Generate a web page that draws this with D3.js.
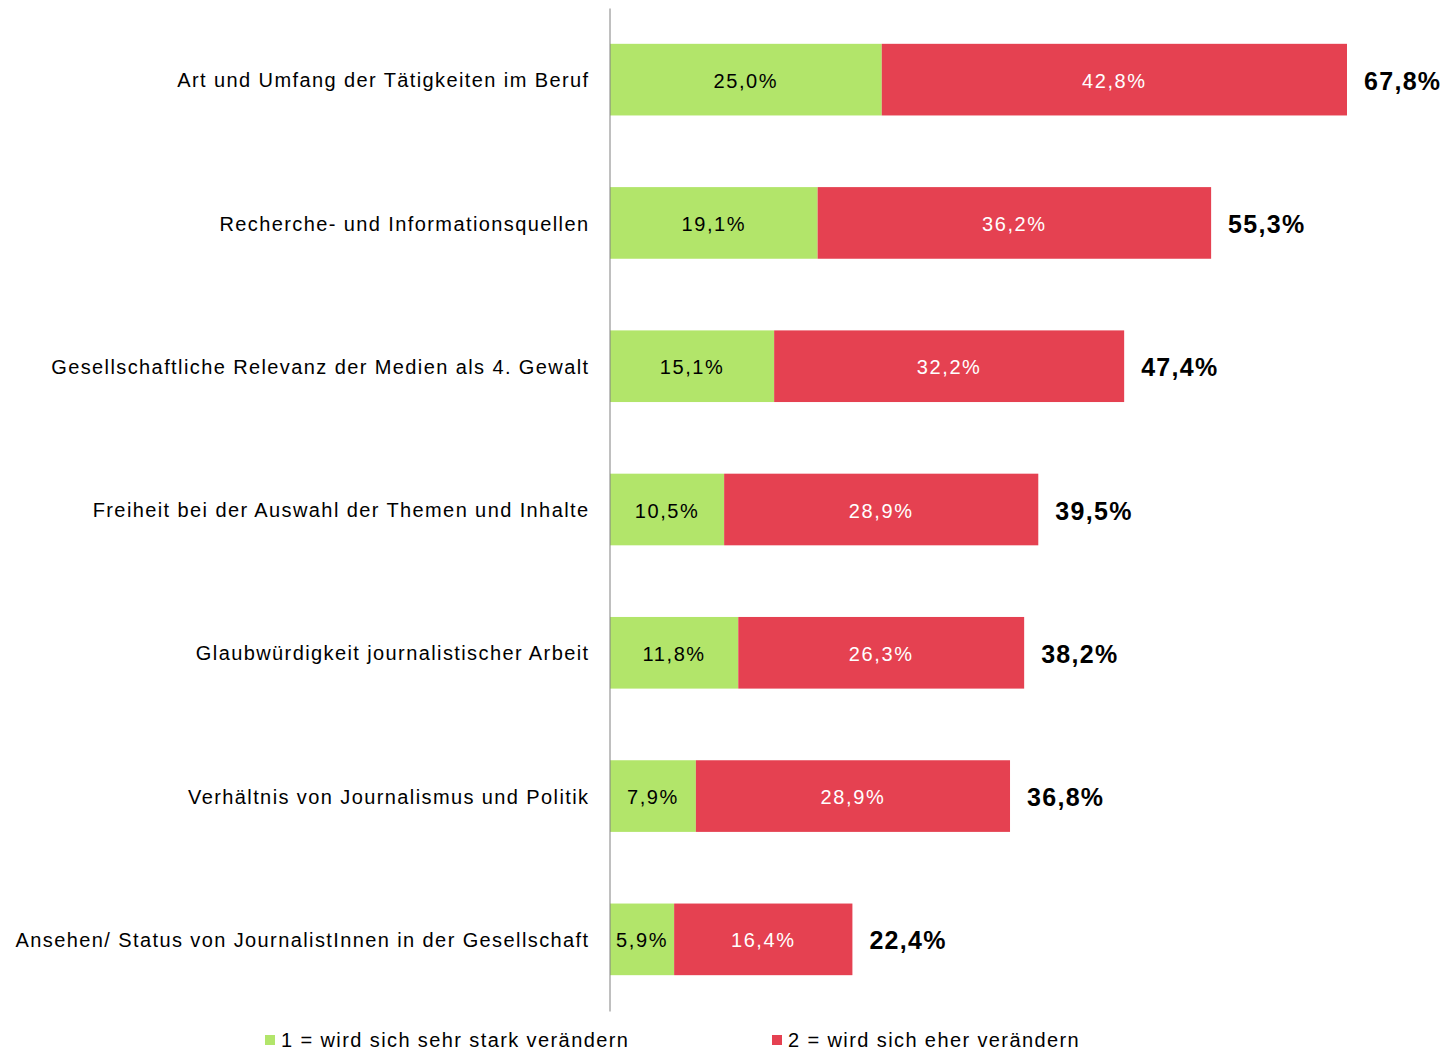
<!DOCTYPE html>
<html>
<head>
<meta charset="utf-8">
<script src="https://cdn.jsdelivr.net/npm/d3@7"></script>
<style>
  body { margin: 0; background: #fff; }
  svg { font-family: "Liberation Sans", Arial, sans-serif; }
</style>
</head>
<body>
<div id="chart"></div>
<script>
// Data_____________________________________________________
const categories = [
    "Art und Umfang der Tätigkeiten im Beruf",
    "Recherche- und Informationsquellen",
    "Gesellschaftliche Relevanz der Medien als 4. Gewalt",
    "Freiheit bei der Auswahl der Themen und Inhalte",
    "Glaubwürdigkeit journalistischer Arbeit",
    "Verhältnis von Journalismus und Politik",
    "Ansehen/ Status von JournalistInnen in der Gesellschaft"
];
const sehrStark = [25.0, 19.1, 15.1, 10.5, 11.8, 7.9, 5.9];
const eher = [42.8, 36.2, 32.2, 28.9, 26.3, 28.9, 16.4];
const totals = [67.8, 55.3, 47.4, 39.5, 38.2, 36.8, 22.4];
const seriesNames = ["1 = wird sich sehr stark verändern", "2 = wird sich eher verändern"];
const colors = ["#b2e56a", "#e54151"];

const fmt = v => d3.format(".1f")(v).replace(".", ",") + "%";

// Layout___________________________________________________
const width = 1451, height = 1051;
const x0 = 610;

const xScale = d3.scaleLinear()
    .domain([0, 67.8])
    .range([x0, 1347]);

const yScale = d3.scaleBand()
    .domain(categories)
    .range([8, 1011])
    .paddingInner(0.5)
    .paddingOuter(0.25);

const svg = d3.select("#chart")
    .append("svg")
    .attr("width", width)
    .attr("height", height);

const rows = categories.map((c, i) => ({cat: c, a: sehrStark[i], b: eher[i], total: totals[i]}));

// Bars
const g = svg.selectAll("g.row")
    .data(rows)
    .enter()
    .append("g")
    .attr("class", "row");

g.append("rect")
    .attr("x", xScale(0))
    .attr("y", d => yScale(d.cat))
    .attr("width", d => xScale(d.a) - xScale(0))
    .attr("height", yScale.bandwidth())
    .attr("fill", colors[0]);

g.append("rect")
    .attr("x", d => xScale(d.a))
    .attr("y", d => yScale(d.cat))
    .attr("width", d => xScale(d.a + d.b) - xScale(d.a))
    .attr("height", yScale.bandwidth())
    .attr("fill", colors[1]);

// Value labels
const mid = d => yScale(d.cat) + yScale.bandwidth() / 2;

g.append("text")
    .attr("x", d => (xScale(0) + xScale(d.a)) / 2)
    .attr("y", mid)
    .attr("dy", "0.4em")
    .attr("text-anchor", "middle")
    .style("font-size", "20px")
    .style("letter-spacing", "1.6px")
    .attr("fill", "#000")
    .text(d => fmt(d.a));

g.append("text")
    .attr("x", d => (xScale(d.a) + xScale(d.a + d.b)) / 2)
    .attr("y", mid)
    .attr("dy", "0.4em")
    .attr("text-anchor", "middle")
    .style("font-size", "20px")
    .style("letter-spacing", "1.6px")
    .attr("fill", "#fff")
    .text(d => fmt(d.b));

g.append("text")
    .attr("x", d => xScale(d.a + d.b) + 17)
    .attr("y", mid)
    .attr("dy", "0.4em")
    .style("font-size", "25px")
    .style("font-weight", "bold")
    .style("letter-spacing", "1.3px")
    .attr("fill", "#000")
    .text(d => fmt(d.total));

// Axis
const yAxis = d3.axisLeft(yScale).tickSize(0).tickPadding(20);
svg.append("g")
    .attr("transform", `translate(${x0 - 0.5}, 0)`)
    .call(yAxis)
    .call(ax => ax.select(".domain").attr("stroke", "#808080").attr("stroke-width", 1))
    .call(ax => ax.selectAll("text")
        .attr("dy", "0.38em")
        .style("font-size", "20px")
        .style("letter-spacing", "1.4px")
        .style("font-family", "'Liberation Sans', Arial, sans-serif")
        .attr("fill", "#000"));

// Legend
const legendX = [265, 772];
const legend = svg.selectAll("g.legend")
    .data(seriesNames)
    .enter()
    .append("g")
    .attr("class", "legend")
    .attr("transform", (d, i) => `translate(${legendX[i]}, 1039)`);

legend.append("rect")
    .attr("x", 0)
    .attr("y", -4)
    .attr("width", 10)
    .attr("height", 10)
    .attr("fill", (d, i) => colors[i]);

legend.append("text")
    .attr("x", 16)
    .attr("y", 0)
    .attr("dy", "0.4em")
    .style("font-size", "20px")
    .style("letter-spacing", "1.4px")
    .text(d => d);
</script>
</body>
</html>
